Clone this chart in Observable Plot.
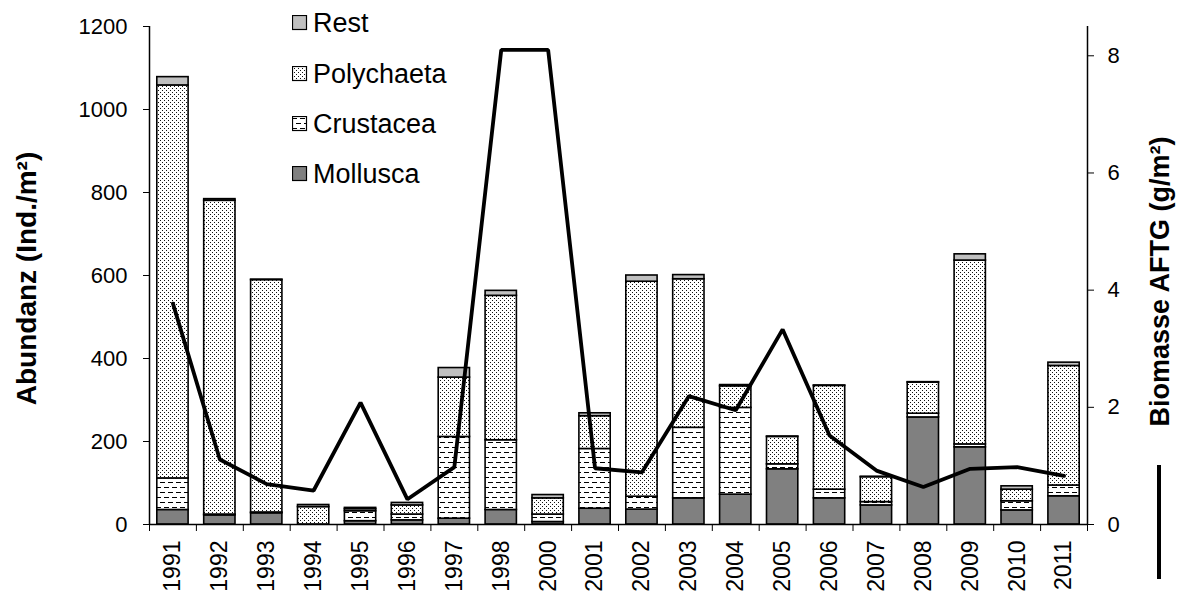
<!DOCTYPE html>
<html>
<head>
<meta charset="utf-8">
<script src="https://cdn.jsdelivr.net/npm/d3@7"></script>
<script src="https://cdn.jsdelivr.net/npm/@observablehq/plot@0.6"></script>
<style>
  html, body { margin: 0; padding: 0; background: #fff; }
  #wrap { position: relative; width: 1184px; height: 596px; font-family: "Liberation Sans", Arial, sans-serif; }
  .leg { position: absolute; left: 292px; font-size: 27px; color: #000; display: flex; align-items: center; height: 30px; }
  .leg svg { margin-right: 5px; }
  #lineLeg { position: absolute; left: 1157px; top: 465px; width: 4px; height: 114px; background: #000; }
</style>
</head>
<body>
<svg width="0" height="0" style="position:absolute">
  <defs>
    <pattern id="polyPat" patternUnits="userSpaceOnUse" width="4" height="4">
      <rect width="4" height="4" fill="#fff"/>
      <rect x="0" y="0" width="1" height="1" fill="#111"/>
      <rect x="2" y="2" width="1" height="1" fill="#111"/>
    </pattern>
    <pattern id="crusPat" patternUnits="userSpaceOnUse" width="8" height="10">
      <rect width="8" height="10" fill="#fff"/>
      <rect x="0" y="2" width="5" height="1" fill="#000"/>
      <rect x="4" y="7" width="5" height="1" fill="#000"/>
      <rect x="-4" y="7" width="5" height="1" fill="#000"/>
    </pattern>
  </defs>
</svg>
<div id="wrap"></div>
<script>
const years = ["1991","1992","1993","1994","1995","1996","1997","1998","2000","2001","2002","2003","2004","2005","2006","2007","2008","2009","2010","2011"];
const mollusca   = [35, 22, 27, 0, 8, 10, 14, 35, 6, 38, 36, 63, 72, 133, 63, 46, 258, 186, 34, 68];
const crustacea  = [76, 2, 2, 0, 24, 14, 197, 168, 18, 144, 31, 170, 209, 12, 21, 8, 9, 7, 22, 26];
const polychaeta = [947, 756, 560, 42, 5, 22, 143, 348, 39, 79, 518, 358, 52, 66, 250, 60, 75, 443, 28, 288];
const rest       = [20, 4, 1, 5, 3, 6, 23, 12, 8, 7, 15, 10, 3, 1, 1, 1, 1, 15, 8, 8];
const biomass    = [3.77, 1.11, 0.69, 0.58, 2.08, 0.43, 0.98, 8.1, 8.1, 0.96, 0.89, 2.19, 1.95, 3.33, 1.52, 0.92, 0.64, 0.95, 0.98, 0.83];
const series = ["Mollusca", "Crustacea", "Polychaeta", "Rest"];
const legendOrder = ["Rest", "Polychaeta", "Crustacea", "Mollusca"];
const fills = ["#808080", "url(#crusPat)", "url(#polyPat)", "#c0c0c0"];
const leftTicks = [0, 200, 400, 600, 800, 1000, 1200];
const rightTicks = [0, 2, 4, 6, 8];
const leftMax = 1200, rightMax = 8.5;
const K = leftMax / rightMax;

const seriesValues = [mollusca, crustacea, polychaeta, rest];
const rows = [];
years.forEach((yr, i) => {
  series.forEach((s, j) => rows.push({i0: i, i1: i + 1, year: yr, series: s, value: seriesValues[j][i]}));
});
const linePts = years.map((yr, i) => ({xi: i + 0.5, v: biomass[i] * K}));

const chart = Plot.plot({
  width: 1184, height: 596,
  marginLeft: 149, marginRight: 97, marginTop: 26, marginBottom: 72,
  x: {type: "linear", domain: [0, years.length], axis: null},
  y: {domain: [0, leftMax], axis: null},
  color: {type: "ordinal", domain: series, range: fills},
  style: {fontFamily: "'Liberation Sans', Arial, sans-serif", fontSize: "22px", color: "#000", background: "#fff"},
  marks: [
    Plot.rectY(rows, {x1: "i0", x2: "i1", y: "value", fill: "series", order: series, stroke: "#000", strokeWidth: 1.6, insetLeft: 7.8, insetRight: 7.8}),
    Plot.ruleY([0], {stroke: "#000", strokeWidth: 1.5}),
    Plot.ruleX([0, years.length], {stroke: "#000", strokeWidth: 1.5}),
    Plot.axisY({ticks: leftTicks, tickSize: 6, tickPadding: 16, fontSize: 22, tickFormat: d => String(d), label: null}),
    Plot.axisY({anchor: "right", ticks: rightTicks.map(v => v * K), tickSize: 6, tickPadding: 14, fontSize: 22, tickFormat: d => String(Math.round(d / K)), label: null}),
    Plot.axisX({ticks: d3.range(years.length + 1), tickSize: 7, tickFormat: () => "", label: null}),
    Plot.axisX({ticks: d3.range(years.length).map(i => i + 0.5), tickSize: 0, tickPadding: 16, tickRotate: -90, fontSize: 23, tickFormat: v => years[Math.floor(v)], label: null}),
    Plot.line(linePts, {x: "xi", y: "v", stroke: "#000", strokeWidth: 3.8, strokeLinejoin: "miter"}),
    Plot.text(["Abundanz (Ind./m²)"], {frameAnchor: "left", textAnchor: "middle", rotate: -90, dx: -122, dy: 3, fontWeight: "bold", fontSize: 28}),
    Plot.text(["Biomasse AFTG (g/m²)"], {frameAnchor: "right", textAnchor: "middle", rotate: -90, dx: 73, dy: 6, fontWeight: "bold", fontSize: 27})
  ]
});
const wrap = document.getElementById("wrap");
wrap.appendChild(chart);

const legCenters = [23, 74, 124, 174];
legendOrder.forEach((s, k) => {
  const div = document.createElement("div");
  div.className = "leg";
  div.style.top = (legCenters[k] - 15) + "px";
  const f = fills[series.indexOf(s)];
  div.innerHTML = `<svg width="16" height="16"><rect x="0.5" y="0.5" width="14" height="14" fill="${f}" stroke="#000" stroke-width="1.2"/></svg><span>${s}</span>`;
  wrap.appendChild(div);
});
const ll = document.createElement("div");
ll.id = "lineLeg";
wrap.appendChild(ll);
</script>
</body>
</html>
